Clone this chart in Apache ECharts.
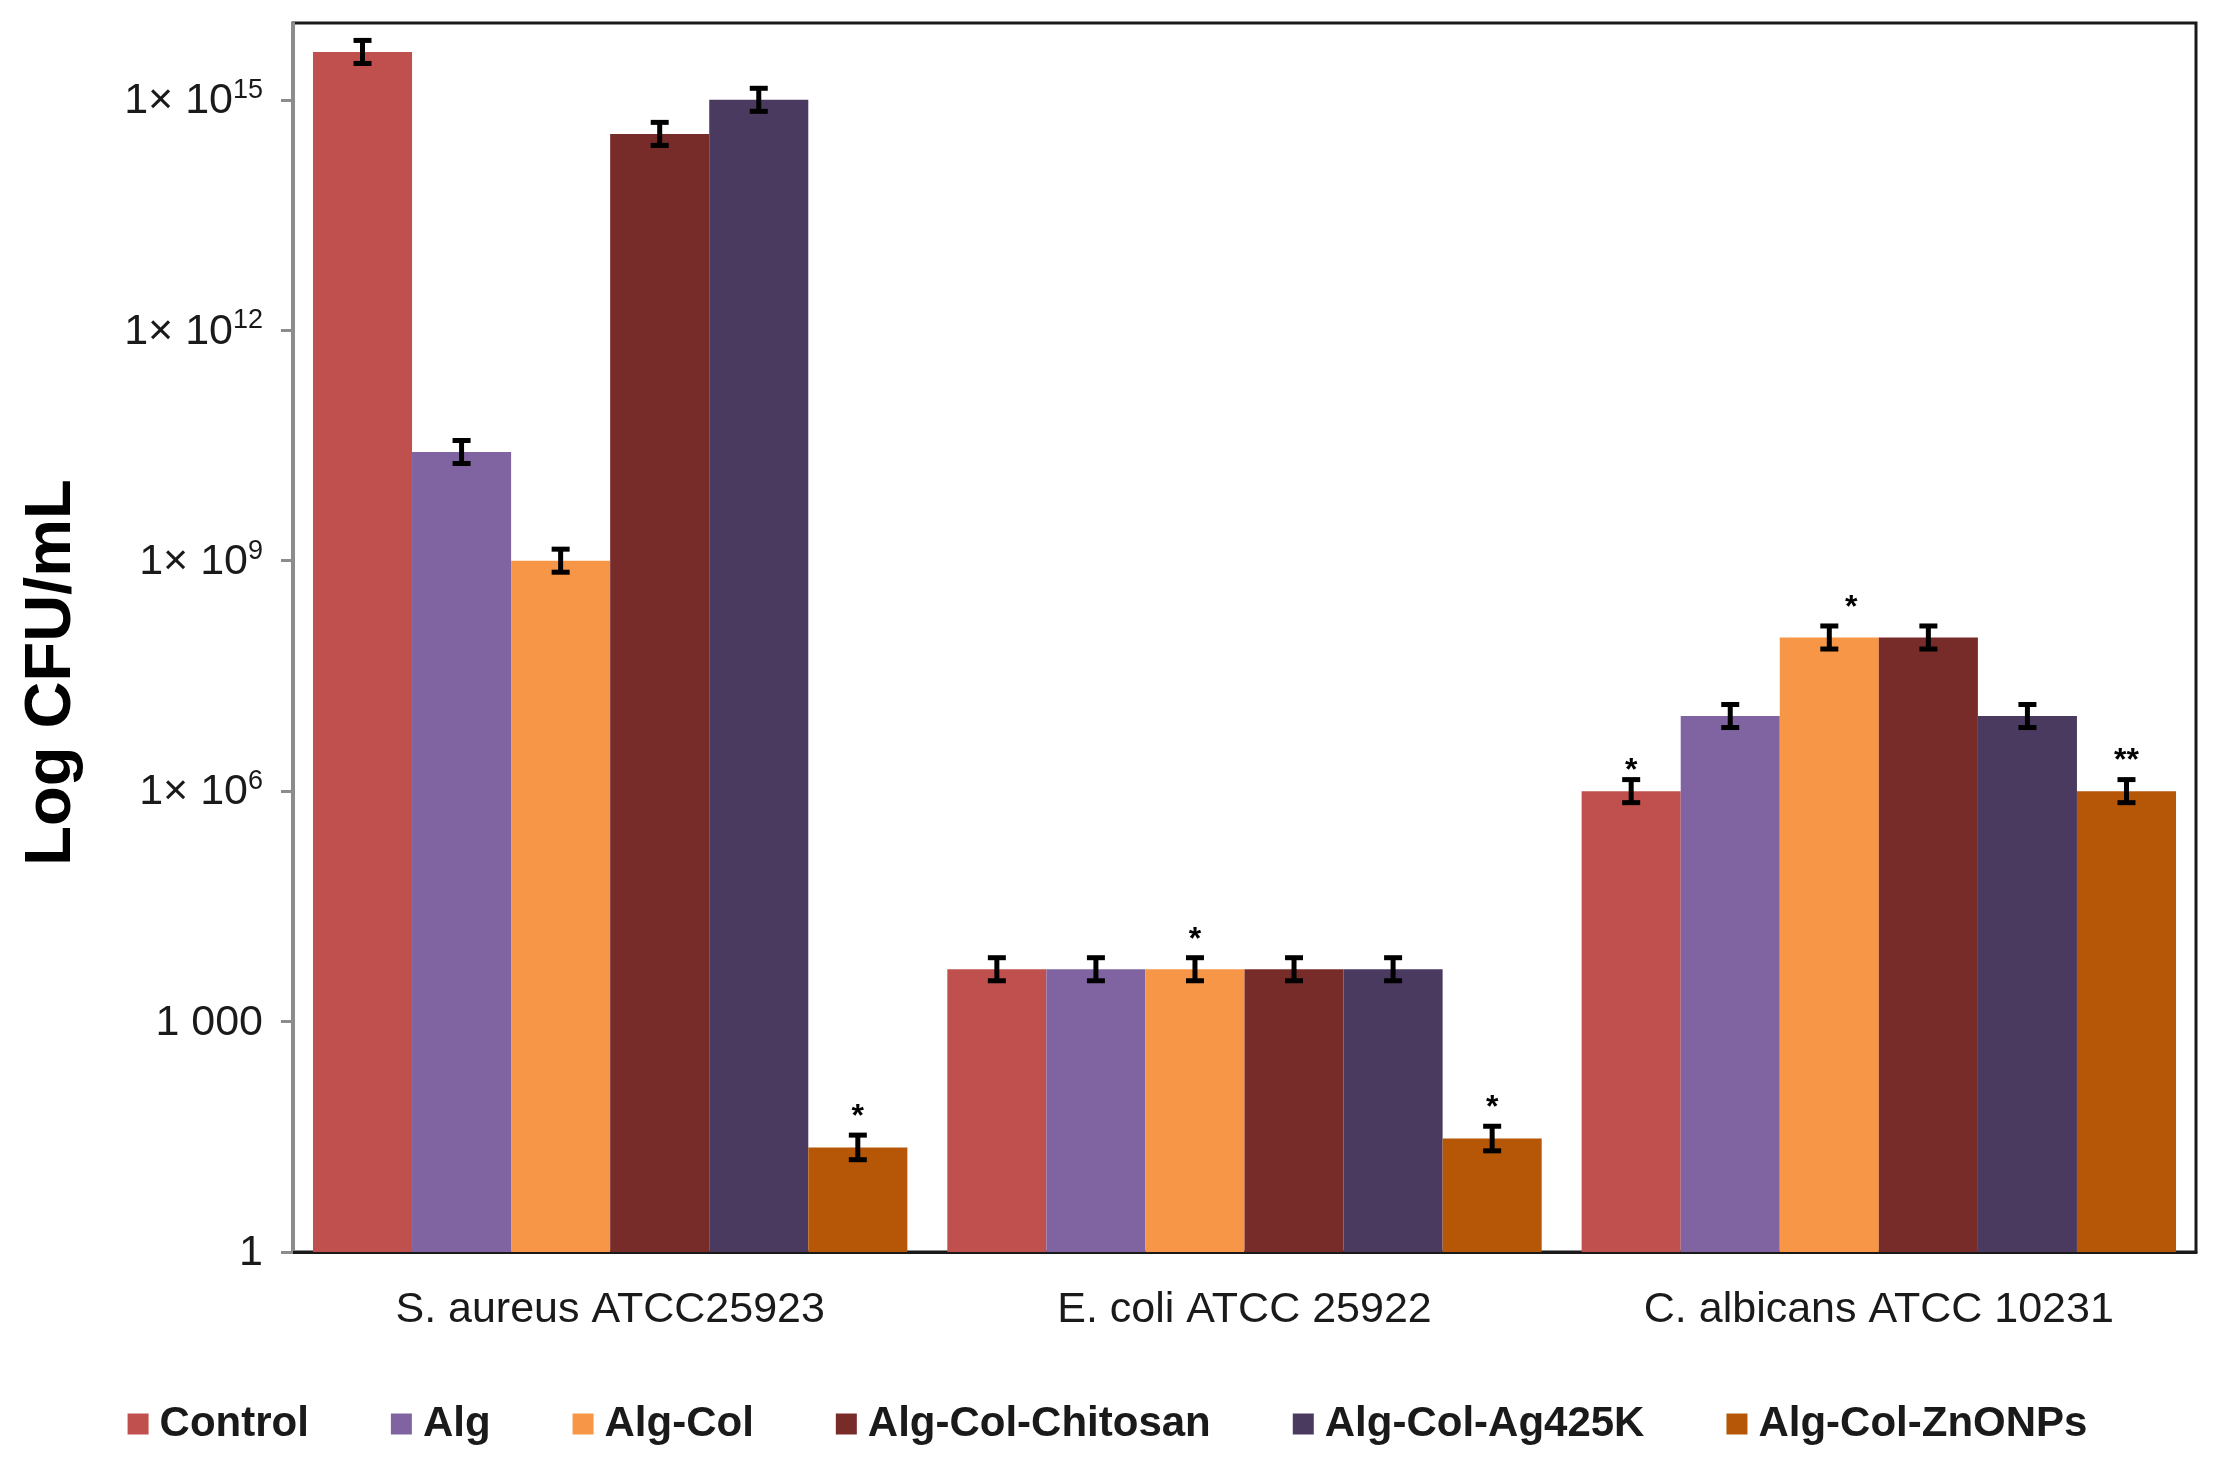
<!DOCTYPE html>
<html>
<head>
<meta charset="utf-8">
<script src="https://cdn.jsdelivr.net/npm/echarts@6/dist/echarts.min.js"></script>
<style>
html,body{margin:0;padding:0;background:#fff;}
#chart{width:2215px;height:1468px;}
</style>
</head>
<body>
<div id="chart"></div>
<script>
// ---- data ----
const categories = ['S. aureus ATCC25923', 'E. coli ATCC 25922', 'C. albicans ATCC 10231'];
const seriesNames = ['Control', 'Alg', 'Alg-Col', 'Alg-Col-Chitosan', 'Alg-Col-Ag425K', 'Alg-Col-ZnONPs'];
const control   = [4.2e15, 4800, 1e6];
const alg       = [2.6e10, 4800, 9.5e6];
const algCol    = [1e9,    4800, 1e8];
const chitosan  = [3.6e14, 4800, 1e8];
const ag425k    = [1e15,   4800, 9.5e6];
const znonps    = [23,     30,   1e6];
// error half-width, in decades (log10 units)
const errControl  = [0.15, 0.15, 0.15];
const errAlg      = [0.15, 0.15, 0.15];
const errAlgCol   = [0.15, 0.15, 0.15];
const errChitosan = [0.15, 0.15, 0.15];
const errAg425k   = [0.15, 0.15, 0.15];
const errZnonps   = [0.16, 0.16, 0.15];
// significance marks
const sigControl  = ['', '', '*'];
const sigAlg      = ['', '', ''];
const sigAlgCol   = ['', '*', '*'];
const sigChitosan = ['', '', ''];
const sigAg425k   = ['', '', ''];
const sigZnonps   = ['*', '*', '**'];
const yTickValues = [1, 1e3, 1e6, 1e9, 1e12, 1e15];

const values = [control, alg, algCol, chitosan, ag425k, znonps];
const errs = [errControl, errAlg, errAlgCol, errChitosan, errAg425k, errZnonps];
const sigs = [sigControl, sigAlg, sigAlgCol, sigChitosan, sigAg425k, sigZnonps];
const colors = ['#C0504D', '#8064A2', '#F79646', '#772C2A', '#4B3A60', '#B65708'];

const gapFrac = 0.063;
const FONT = 'Liberation Sans, Arial, sans-serif';

const chart = echarts.init(document.getElementById('chart'));

const series = [];
seriesNames.forEach((name, si) => {
  series.push({
    name: name,
    type: 'bar',
    barGap: '0%',
    barCategoryGap: (gapFrac * 100) + '%',
    itemStyle: { color: colors[si] },
    data: values[si],
    z: 2
  });
});
seriesNames.forEach((name, si) => {
  series.push({
    name: 'err-' + name,
    type: 'custom',
    z: 5,
    silent: true,
    renderItem: function (params, api) {
      const ci = api.value(0);
      const v = api.value(1);
      const e = api.value(2);
      const band = api.size([1, 1])[0];
      const total = band * (1 - gapFrac);
      const barW = total / seriesNames.length;
      const cx = api.coord([ci, v])[0] - total / 2 + barW * (si + 0.5);
      const f = Math.pow(10, e);
      const yHi = api.coord([ci, v * f])[1];
      const yLo = api.coord([ci, v / f])[1];
      const cap = 9;
      const st = { stroke: '#000', lineWidth: 5 };
      const children = [
        { type: 'line', shape: { x1: cx, y1: yHi, x2: cx, y2: yLo }, style: st },
        { type: 'line', shape: { x1: cx - cap, y1: yHi, x2: cx + cap, y2: yHi }, style: st },
        { type: 'line', shape: { x1: cx - cap, y1: yLo, x2: cx + cap, y2: yLo }, style: st }
      ];
      const s = sigs[si][params.dataIndex];
      if (s) {
        const dx = (si === 2 && params.dataIndex === 2) ? 22 : 0;
        const dy = (si === 0 && params.dataIndex === 2) ? 10 : 0;
        children.push({
          type: 'text',
          style: {
            text: s, x: cx + dx, y: yHi - 2 + dy,
            align: 'center', verticalAlign: 'bottom',
            font: 'bold 32px ' + FONT, fill: '#000'
          }
        });
      }
      return { type: 'group', children: children };
    },
    data: categories.map((c, i) => [i, values[si][i], errs[si][i]])
  });
});

function yLabel(v) {
  const p = Math.round(Math.log10(v));
  if (p === 0) return '{b|1}';
  if (p === 3) return '{b|1 000}';
  return '{b|1× 10}{sup|' + p + '}';
}

chart.setOption({
  animation: false,
  backgroundColor: '#fff',
  textStyle: { fontFamily: FONT },
  grid: {
    left: 293, right: 19, top: 23, bottom: 216,
    show: true, borderColor: '#1a1a1a', borderWidth: 3, backgroundColor: 'transparent'
  },
  legend: {
    data: seriesNames,
    bottom: 18,
    left: 'center',
    icon: 'rect',
    itemWidth: 21,
    itemHeight: 21,
    itemGap: 82,
    textStyle: { fontSize: 42, fontWeight: 'bold', color: '#1a1a1a', fontFamily: FONT, padding: [0, 0, 0, 6] }
  },
  xAxis: {
    type: 'category',
    data: categories,
    axisLine: { lineStyle: { color: '#1a1a1a', width: 3 } },
    axisTick: { show: false },
    axisLabel: { fontSize: 43, color: '#1a1a1a', margin: 37, fontFamily: FONT }
  },
  yAxis: {
    type: 'log',
    logBase: 1000,
    min: 1,
    max: 1e16,
    name: 'Log CFU/mL',
    nameLocation: 'middle',
    nameRotate: 90,
    nameGap: 208,
    nameTextStyle: { fontSize: 65, fontWeight: 'bold', color: '#000', fontFamily: FONT, padding: [0, 70, 0, 0] },
    axisLine: { show: true, lineStyle: { color: '#8c8c8c', width: 3 } },
    axisTick: { show: true, length: 12, lineStyle: { color: '#8c8c8c', width: 3 } },
    splitLine: { show: false },
    axisLabel: {
      showMaxLabel: false,
      margin: 30,
      formatter: yLabel,
      rich: {
        b: { fontSize: 43, lineHeight: 46, verticalAlign: 'bottom', color: '#1a1a1a', fontFamily: FONT },
        sup: { fontSize: 27, verticalAlign: 'top', color: '#1a1a1a', fontFamily: FONT }
      }
    }
  },
  series: series
});
</script>
</body>
</html>
